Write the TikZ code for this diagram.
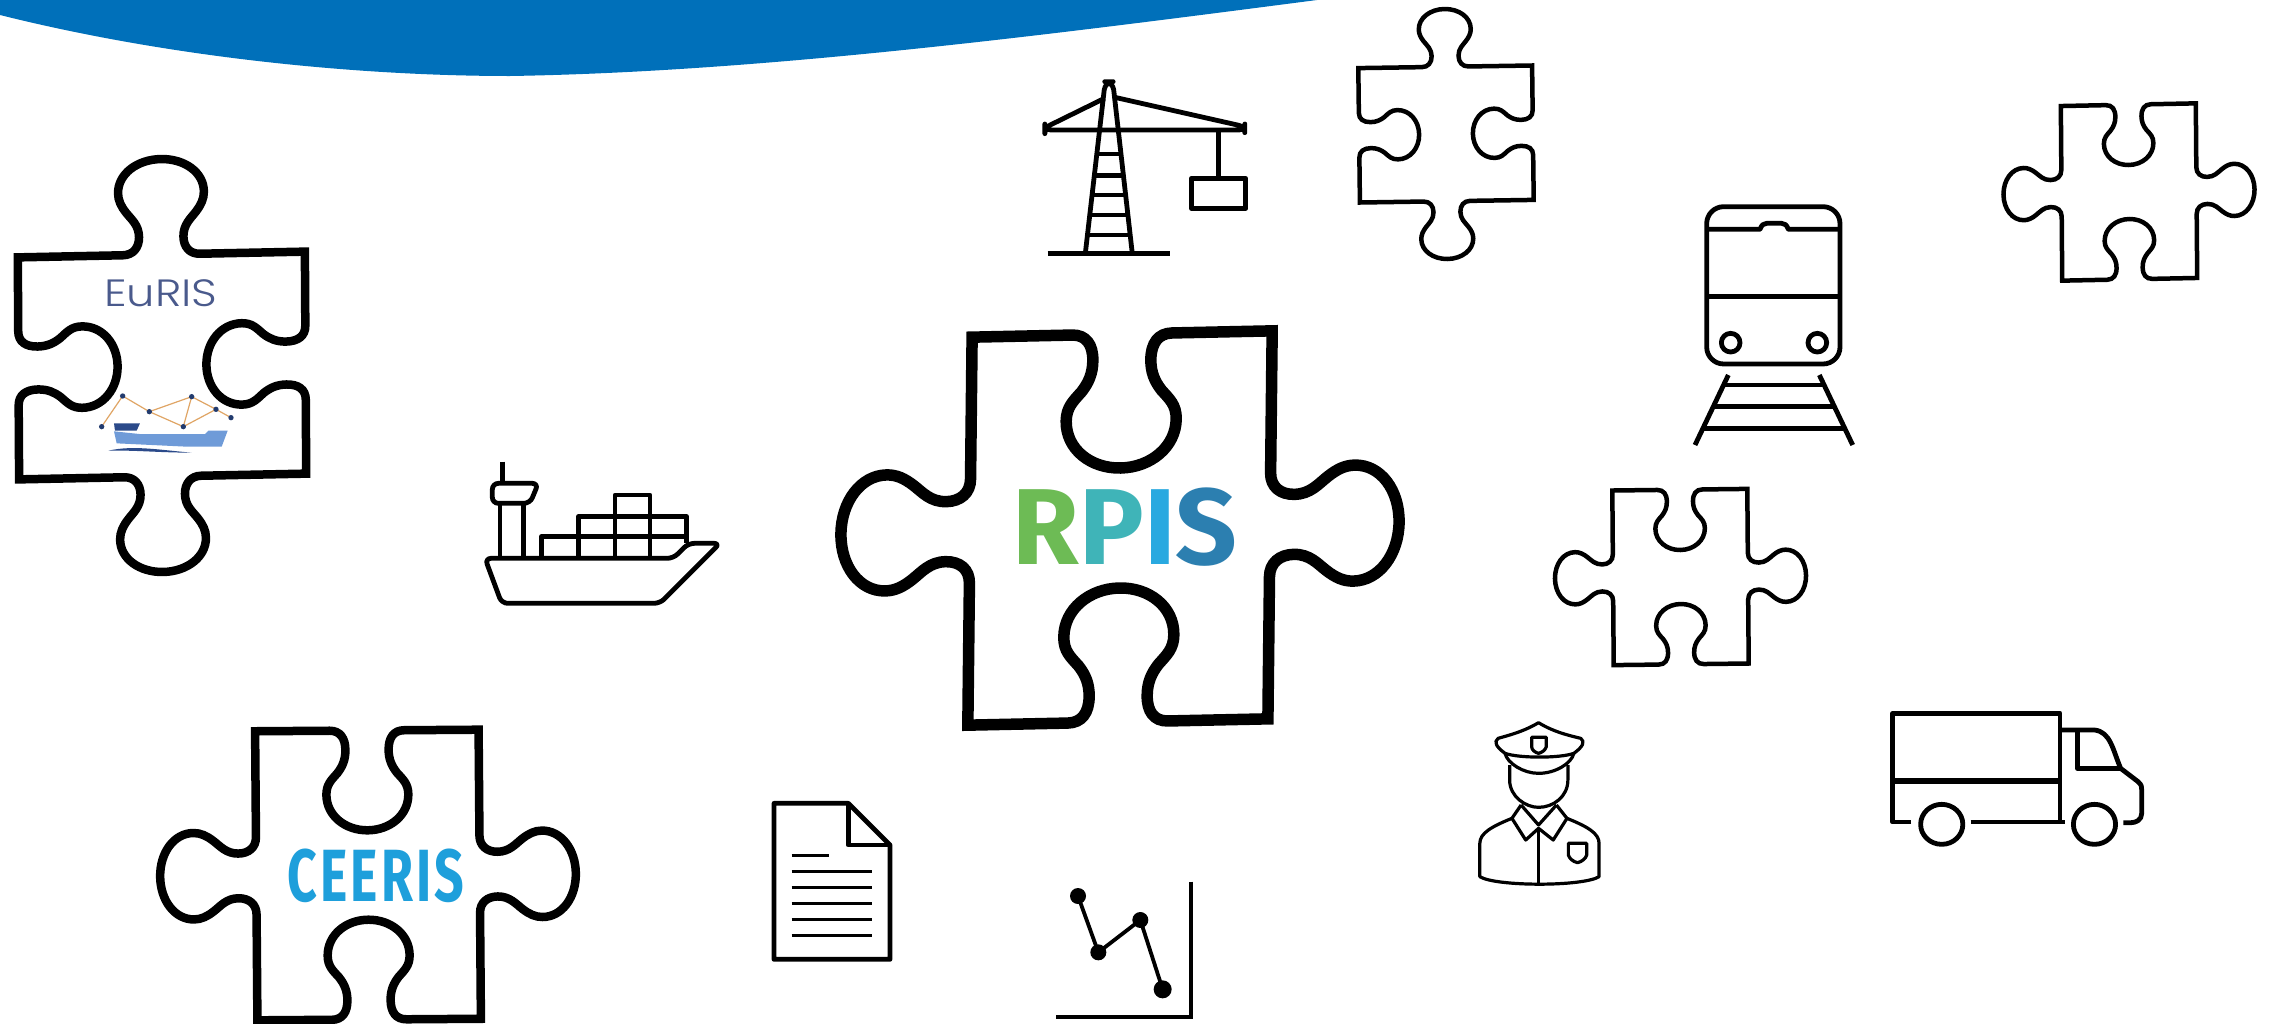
\documentclass[tikz,border=0pt]{standalone}
\usepackage{fontspec}
\setmainfont{Lato}
\newfontfamily\poplight{Poppins}[UprightFont=* Light]
\newfontfamily\firabold{Fira Sans}[UprightFont=* Bold]
\definecolor{banner}{HTML}{0070BA}
\definecolor{rp1}{HTML}{6DBB55}
\definecolor{rp2}{HTML}{3FB4B8}
\definecolor{rp3}{HTML}{29A9E0}
\definecolor{rp4}{HTML}{2C7FB0}
\definecolor{eunavy}{HTML}{4A5A8C}
\definecolor{ceeris}{HTML}{1E9FDB}
\definecolor{shiplight}{HTML}{6F9BD8}
\definecolor{shipdark}{HTML}{2B4A8A}
\definecolor{logoline}{HTML}{E0A565}
\tikzset{
  piece/.style={draw=black,line join=miter},
  icon/.style={draw=black,line width=2.4pt,line join=round},
  thinicon/.style={draw=black,line width=1.6pt,line join=round},
}
\newcommand{\piecepath}{(-150,-194) -- (-50,-194)
 .. controls (-36,-194) and (-29,-184) .. (-29,-168) .. controls (-29,-155) and (-33,-146) .. (-40,-137) .. controls (-48,-128) and (-55,-122) .. (-55,-108)
 .. controls (-55,-80) and (-30,-60) .. (0,-60) .. controls (30,-60) and (55,-80) .. (55,-108)
 .. controls (55,-122) and (48,-128) .. (40,-137) .. controls (33,-146) and (29,-155) .. (29,-168) .. controls (29,-184) and (36,-194) .. (50,-194)
 -- (150,-194) -- (150,-52)
 .. controls (150,-38) and (160,-30) .. (174,-30) .. controls (190,-30) and (198,-40) .. (207,-47) .. controls (216,-54) and (224,-58) .. (234,-58)
 .. controls (260,-58) and (279,-32) .. (279,0) .. controls (279,32) and (260,58) .. (234,58)
 .. controls (224,58) and (216,54) .. (207,47) .. controls (198,40) and (190,30) .. (174,30) .. controls (160,30) and (150,38) .. (150,52)
 -- (150,194) -- (50,194)
 .. controls (36,194) and (29,184) .. (29,168) .. controls (29,155) and (33,146) .. (40,137) .. controls (48,128) and (55,122) .. (55,108)
 .. controls (55,80) and (30,60) .. (0,60) .. controls (-30,60) and (-55,80) .. (-55,108)
 .. controls (-55,122) and (-48,128) .. (-40,137) .. controls (-33,146) and (-29,155) .. (-29,168) .. controls (-29,184) and (-36,194) .. (-50,194)
 -- (-150,194) -- (-150,52)
 .. controls (-150,38) and (-160,30) .. (-174,30) .. controls (-190,30) and (-198,40) .. (-207,47) .. controls (-216,54) and (-224,58) .. (-234,58)
 .. controls (-260,58) and (-279,32) .. (-279,0) .. controls (-279,-32) and (-260,-58) .. (-234,-58)
 .. controls (-224,-58) and (-216,-54) .. (-207,-47) .. controls (-198,-40) and (-190,-30) .. (-174,-30) .. controls (-160,-30) and (-150,-38) .. (-150,-52) -- cycle}
% x, y, scale, rotate, line width, xslant, yslant
\newcommand{\puzzlepiece}[7]{\draw[piece,line width=#5*0.5pt,shift={(#1,#2)},xslant=#6,yslant=#7,rotate=#4,scale=#3] \piecepath;}
\begin{document}
\begin{tikzpicture}[x=0.5pt,y=-0.5pt]
\path[use as bounding box,fill=white] (0,0) rectangle (2274,1023);
% banner
\fill[banner] (0,0) -- (0,15) .. controls (180,60) and (370,76) .. (510,76) .. controls (760,72) and (1040,36) .. (1317,0) -- cycle;
% puzzle pieces
\puzzlepiece{1120}{528}{1}{0}{11.5}{0.011}{0.021}
\puzzlepiece{162}{365.5}{0.74}{90}{8.5}{-0.006}{0.02}
\puzzlepiece{368}{875}{0.745}{0}{8.5}{-0.008}{0.007}
\puzzlepiece{1446}{134}{0.448}{90}{4.5}{-0.012}{0.015}
\puzzlepiece{2129}{192}{0.45}{0}{4.5}{-0.008}{0.02}
\puzzlepiece{1680.5}{577}{0.45}{0}{4.5}{-0.008}{0.012}
% labels
\node[inner sep=0,font=\firabold\fontsize{54}{54}\selectfont] (rpis) at (1125,527) {\textcolor{rp1}{R}\textcolor{rp2}{P}\textcolor{rp3}{I}\textcolor{rp4}{S}};
\node[inner sep=0,text=eunavy,xscale=1.18,font=\poplight\fontsize{19}{19}\selectfont] (euris) at (161,293) {EuRIS};
\node[inner sep=0,text=ceeris,xscale=0.7,font=\firabold\addfontfeatures{LetterSpace=6}\fontsize{37}{37}\selectfont] (ceerislabel) at (376,876) {CEERIS};
% EuRIS logo
\begin{scope}[shift={(0,130)},scale=1/3]
\fill[shipdark] (342,880) -- (420,880) -- (410,902) -- (345,902) -- cycle;
\fill[shiplight] (342,904) -- (418,912) -- (615,912) -- (625,902) -- (683,902) -- (665,950) -- (560,950) -- (350,940) -- cycle;
\fill[shipdark] (325,962) .. controls (400,945) and (480,960) .. (575,968) .. controls (480,968) and (400,960) .. (325,962) -- cycle;
\coordinate (n1) at (305,890); \coordinate (n2) at (368,798); \coordinate (n3) at (448,845); \coordinate (n4) at (575,800);
\coordinate (n5) at (550,890); \coordinate (n6) at (648,838); \coordinate (n7) at (693,863);
\draw[logoline,line width=0.6pt] (n1) -- (n2) -- (n3) -- (n4) -- (n5) -- (n3) (n4) -- (n6) -- (n5) (n6) -- (n7);
\foreach \n in {n1,n2,n3,n4,n5,n6,n7} \fill[shipdark!80!black] (\n) circle (8);
\end{scope}
% crane
\begin{scope}[shift={(1020,0)},xscale=1/2.9,yscale=1/3]
\draw[icon,rounded corners=4pt] (190,755) -- (247,245) -- (269,245) -- (325,755);
\draw[icon] (80,760) -- (435,760);
\draw[icon,rounded corners=3pt] (245,295) -- (72,383) -- (72,390) -- (652,390) -- (652,380) -- (275,292);
\draw[icon] (575,390) -- (575,535);
\draw[icon] (497,535) rectangle (655,625);
\draw[icon] (225,462) -- (290,462) (217,527) -- (298,527) (210,585) -- (305,585) (203,645) -- (312,645) (196,705) -- (319,705);
\end{scope}
% ship
\begin{scope}[shift={(460,440)},scale=1/3]
\draw[icon,rounded corners=3pt] (75,355) -- (640,355) -- (685,310) -- (780,310) -- (600,490) -- (125,490) -- cycle;
\draw[icon] (120,355) -- (120,190) (190,355) -- (190,190) (128,65) -- (128,130);
\draw[icon,rounded corners=3pt] (97,130) -- (235,130) -- (210,190) -- (97,190) -- cycle;
\draw[icon] (245,350) -- (245,290) -- (680,290) (355,350) -- (355,230) -- (680,230) -- (680,310) (465,350) -- (465,165) -- (570,165) -- (570,350);
\end{scope}
% train
\begin{scope}[shift={(1660,180)},scale=1/3]
\draw[icon,rounded corners=8.5pt] (140,80) rectangle (540,552);
\draw[icon] (140,148) -- (300,148) .. controls (305,135) and (310,130) .. (320,130) -- (365,130) .. controls (375,130) and (380,135) .. (385,148) -- (540,148);
\draw[icon] (140,350) -- (540,350);
\draw[icon] (212,488) circle (28) (472,488) circle (28);
\draw[icon] (205,585) -- (105,795) (478,585) -- (578,795);
\draw[icon] (195,615) -- (490,615) (165,680) -- (520,680) (130,745) -- (550,745);
\end{scope}
% truck
\begin{scope}[shift={(1450,700)},xscale=1/2.18,yscale=1/3]
\draw[icon] (1005,366) -- (965,366) -- (965,40) -- (1330,40) -- (1330,366);
\draw[icon] (1135,366) -- (1340,366);
\draw[icon,line width=2.75pt] (965,243) -- (1330,243);
\draw[icon] (1330,90) -- (1405,90) .. controls (1440,95) and (1445,150) .. (1462,205) -- (1500,245) .. controls (1508,255) and (1508,260) .. (1508,270) -- (1508,340) .. controls (1508,360) and (1495,368) .. (1485,368) -- (1468,368);
\draw[icon] (1368,90) -- (1368,205) -- (1462,205);
\draw[icon] (1072,373) ellipse (46 and 60) (1405,373) ellipse (46 and 60);
\end{scope}
% officer
\begin{scope}[shift={(1450,700)},xscale=1/2.18,yscale=1/3]
\draw[thinicon] (193,68) .. controls (160,95) and (130,105) .. (105,115) .. controls (95,125) and (100,140) .. (120,160) .. controls (150,175) and (240,175) .. (270,160) .. controls (290,140) and (295,125) .. (285,115) .. controls (255,105) and (225,95) .. (193,68) -- cycle;
\draw[thinicon] (120,160) .. controls (125,190) and (160,220) .. (193,220) .. controls (230,220) and (265,190) .. (270,160);
\draw[thinicon] (178,112) -- (210,112) -- (210,140) .. controls (208,150) and (200,158) .. (193,160) .. controls (186,158) and (178,150) .. (178,140) -- cycle;
\draw[thinicon] (130,195) -- (130,240) .. controls (130,290) and (165,322) .. (193,322) .. controls (225,322) and (257,290) .. (257,240) -- (257,195);
\draw[thinicon] (155,315) -- (193,375) -- (232,315);
\draw[thinicon] (155,315) -- (135,355) -- (165,420) -- (193,385) -- (225,420) -- (255,355) -- (232,315);
\draw[thinicon] (135,355) .. controls (90,380) and (65,400) .. (65,430) -- (65,530) .. controls (100,560) and (290,560) .. (325,530) -- (325,430) .. controls (325,400) and (300,380) .. (255,355);
\draw[thinicon] (193,385) -- (193,552);
\draw[thinicon] (258,430) -- (298,430) -- (298,465) .. controls (296,475) and (288,485) .. (278,488) .. controls (268,485) and (260,475) .. (258,465) -- cycle;
\end{scope}
% document and chart
\begin{scope}[shift={(740,780)},scale=1/3]
\draw[icon] (102,70) -- (325,70) -- (450,195) -- (450,538) -- (102,538) -- cycle;
\draw[icon] (325,70) -- (325,195) -- (450,195);
\draw[thinicon,line width=1.75pt] (155,226) -- (268,226) (155,274) -- (395,274) (155,322) -- (395,322) (155,370) -- (395,370) (155,418) -- (395,418) (155,466) -- (395,466);
\draw[icon,line width=1.9pt,line join=miter] (1352,305) -- (1352,710) -- (948,710);
\draw[icon,line width=1.9pt] (1014,348) -- (1075,517) -- (1201,420) -- (1268,628);
\fill (1014,348) circle (24) (1075,517) circle (24) (1201,420) circle (24) (1268,628) circle (27);
\end{scope}
\end{tikzpicture}
\end{document}
